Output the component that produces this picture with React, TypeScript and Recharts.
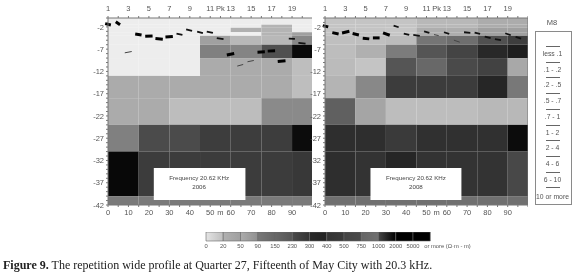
import { ComposedChart, ReferenceArea, ReferenceLine, XAxis, YAxis } from 'recharts';

// electrode positions along the profile (m), shared by both panels
const columnEdges = [0, 15, 30, 45, 60, 75, 90, 100];
const rowEdges = [0, -1.5, -2.2, -3.2, -4, -6, -9, -13, -18, -24, -30, -40, -42];

const profileExtent = [{ x: 0, depth: 0 }, { x: 100, depth: -42 }];
const barExtent = [{ x: 0, y: 0 }, { x: 16, y: 1 }];

const topTicks = [0, 5, 10, 15, 20, 25, 30, 35, 40, 45, 50, 55, 60, 65, 70, 75, 80, 85, 90, 95, 100];
const topLabels: Record<number, string> = {
  0: '1', 10: '3', 20: '5', 30: '7', 40: '9', 50: '11', 55: 'Pk', 60: '13', 70: '15', 80: '17', 90: '19',
};
const bottomLabels: Record<number, string> = {
  0: '0', 10: '10', 20: '20', 30: '30', 40: '40', 50: '50', 55: 'm', 60: '60', 70: '70', 80: '80', 90: '90',
};
const depthTicks = [0, -1, -2, -3, -4, -5, -6, -7, -8, -9, -10, -11, -12, -13, -14, -15, -16, -17, -18, -19, -20, -21, -22, -23, -24, -25, -26, -27, -28, -29, -30, -31, -32, -33, -34, -35, -36, -37, -38, -39, -40, -41, -42];
const depthLabels = [-2, -7, -12, -17, -22, -27, -32, -37, -42];

// gray level of each cell, one row per depth band
const leftLevels = [
  [237, 237, 237, 237, 237, 237, 237],
  [237, 237, 237, 237, 237, 180, 237],
  [237, 237, 237, 237, 176, 180, 237],
  [237, 237, 237, 237, 240, 180, 160],
  [237, 237, 237, 160, 184, 184, 136],
  [237, 237, 237, 128, 132, 80, 10],
  [237, 237, 237, 171, 171, 171, 190],
  [171, 171, 171, 171, 171, 171, 190],
  [171, 171, 189, 189, 189, 138, 138],
  [128, 75, 75, 61, 61, 61, 12],
  [8, 60, 60, 60, 60, 60, 56],
  [122, 122, 122, 122, 122, 122, 122],
];
const rightLevels = [
  [196, 196, 196, 184, 184, 172, 172],
  [196, 196, 196, 184, 184, 172, 172],
  [196, 196, 198, 174, 174, 160, 160],
  [196, 196, 198, 174, 174, 160, 160],
  [191, 191, 188, 117, 110, 80, 62],
  [189, 176, 124, 85, 68, 40, 30],
  [187, 196, 85, 104, 74, 66, 168],
  [180, 136, 60, 60, 60, 38, 120],
  [96, 165, 189, 189, 189, 184, 184],
  [46, 46, 58, 48, 48, 48, 12],
  [46, 51, 38, 51, 51, 51, 72],
  [112, 112, 112, 112, 112, 112, 112],
];

// x1, depth1, x2, depth2, magnitude class
const leftDashes = [
  [-1.4, -1.27, 1.4, -1.56, 3],
  [3.8, -0.83, 5.9, -1.5, 3],
  [8.2, -7.82, 11.6, -7.53, 1],
  [13.3, -3.58, 16.4, -3.8, 3],
  [18.2, -4.09, 21.8, -4.02, 3],
  [23.2, -4.62, 26.8, -4.76, 3],
  [28.1, -4.25, 31.7, -4.13, 3],
  [33.5, -3.5, 36.4, -3.8, 2],
  [38.2, -2.53, 41.1, -2.9, 2],
  [43.6, -3.06, 46.4, -3.42, 2],
  [48.3, -3.06, 51.3, -3.35, 2],
  [53.2, -4.54, 56.5, -4.76, 2],
  [58.1, -8.33, 61.7, -7.98, 3],
  [63.2, -10.8, 66.1, -10.44, 1],
  [68.2, -9.83, 71.3, -9.54, 1],
  [73.1, -7.67, 76.7, -7.6, 3],
  [78.1, -7.44, 81.7, -7.37, 3],
  [83, -9.76, 86.8, -9.6, 3],
  [88.4, -4.62, 91.4, -4.69, 2],
  [93.1, -5.59, 96.6, -5.75, 2],
];
const rightDashes = [
  [-1.1, -1.71, 1.6, -2, 3],
  [3.6, -3.28, 6.7, -3.58, 3],
  [8.4, -3.35, 12, -2.98, 3],
  [13.6, -3.5, 16.7, -3.8, 3],
  [18.6, -4.54, 21.8, -4.69, 3],
  [23.6, -4.47, 26.9, -4.47, 3],
  [28.6, -3.35, 31.9, -3.87, 3],
  [33.8, -1.71, 36.3, -2.08, 2],
  [38.8, -3.5, 41.5, -3.8, 2],
  [43.5, -3.8, 46.7, -4.02, 2],
  [48.8, -2.98, 51.4, -3.35, 2],
  [53.7, -3.73, 56, -3.95, 1],
  [58.6, -3.2, 61.2, -3.58, 2],
  [63.5, -4.98, 66.4, -5.43, 1],
  [68.5, -3.2, 71.6, -3.35, 2],
  [73.7, -3.28, 76.4, -3.58, 2],
  [78.7, -4.18, 81.6, -4.54, 2],
  [83.7, -4.76, 86.7, -4.98, 2],
  [88.8, -3.42, 91.5, -3.87, 2],
  [93.9, -4.25, 96.6, -4.63, 2],
];

// resistivity colour bar
const barLabels = ['0', '20', '50', '90', '150', '230', '300', '400', '500', '750', '1000', '2000', '5000'];
const barStart = [228, 176, 172, 120, 104, 74, 42, 51, 68, 102, 70, 0, 0];
const barEnd = [190, 160, 144, 102, 85, 51, 34, 58, 74, 112, 0, 0, 0];

const magnitudeLabels = ['less .1', '.1 - .2', '.2 - .5', '.5 - .7', '.7 - 1', '1 - 2', '2 - 4', '4 - 6', '6 - 10', '10 or more'];

const gray = (v: number) => `rgb(${v},${v},${v})`;
const axisColor = '#777';
const tickStyle = { fontSize: 7.5, fill: '#555', fontFamily: 'Liberation Sans' };
const dashWidth: Record<number, number> = { 1: 1, 2: 1.8, 3: 3 };
const dashColor: Record<number, string> = { 1: '#444', 2: '#111', 3: '#000' };

function Panel({ left, plotWidth, levels, dashes, boxYear }: any) {
  return (
    <div style={{ position: 'absolute', left, top: 0 }}>
      <ComposedChart
        width={plotWidth + 30}
        height={225}
        data={profileExtent}
        margin={{ top: 0, right: 0, left: 0, bottom: 0 }}
      >
        <XAxis
          xAxisId="top"
          orientation="top"
          dataKey="x"
          type="number"
          domain={[0, 100]}
          ticks={topTicks}
          interval={0}
          height={18}
          tickSize={2}
          tickMargin={5}
          stroke={axisColor}
          tick={tickStyle}
          tickFormatter={(v: number) => topLabels[v] ?? ''}
        />
        <XAxis
          xAxisId="bottom"
          dataKey="x"
          type="number"
          domain={[0, 100]}
          ticks={topTicks}
          interval={0}
          height={20}
          tickSize={2}
          tickMargin={3}
          stroke={axisColor}
          tick={tickStyle}
          tickFormatter={(v: number) => bottomLabels[v] ?? ''}
        />
        <YAxis
          dataKey="depth"
          type="number"
          domain={[-42, 0]}
          ticks={depthTicks}
          interval={0}
          width={30}
          tickSize={2}
          tickMargin={2}
          stroke={axisColor}
          tick={tickStyle}
          tickFormatter={(v: number) => (depthLabels.includes(v) ? String(v) : '')}
        />
        {levels.map((row: number[], r: number) =>
          row.map((level, c) => (
            <ReferenceArea
              key={`${r}-${c}`}
              xAxisId="bottom"
              x1={columnEdges[c]}
              x2={columnEdges[c + 1]}
              y1={rowEdges[r + 1]}
              y2={rowEdges[r]}
              fill={gray(level)}
              fillOpacity={1}
              stroke="none"
            />
          ))
        )}
        <ReferenceArea xAxisId="bottom" x1={22.4} x2={67.2} y1={-40.9} y2={-33.7} fill="#fff" fillOpacity={1} stroke="none" />
        <ReferenceLine xAxisId="bottom" x={100} stroke={axisColor} />
        {dashes.map((d: number[], i: number) => (
          <ReferenceLine
            key={i}
            xAxisId="bottom"
            ifOverflow="visible"
            segment={[{ x: d[0], y: d[1] }, { x: d[2], y: d[3] }]}
            stroke={dashColor[d[4]]}
            strokeWidth={dashWidth[d[4]]}
          />
        ))}
      </ComposedChart>
      <div
        style={{
          position: 'absolute',
          left: 30 + plotWidth * 0.448 - 50,
          top: 174,
          width: 100,
          textAlign: 'center',
          font: '6.2px/8.8px "Liberation Sans"',
          color: '#444',
        }}
      >
        Frequency 20.62 KHz
        <br />
        {boxYear}
      </div>
    </div>
  );
}

export default function App() {
  return (
    <div
      style={{
        position: 'absolute',
        left: 0,
        top: 0,
        width: 576,
        height: 273,
        overflow: 'hidden',
        background: '#fff',
        filter: 'blur(0.45px)',
      }}
    >
      <Panel left={77.5} plotWidth={204.5} levels={leftLevels} dashes={leftDashes} boxYear="2006" />
      <Panel left={295} plotWidth={203} levels={rightLevels} dashes={rightDashes} boxYear="2008" />

      <div style={{ position: 'absolute', left: 540, width: 24, top: 18, textAlign: 'center', font: '7.5px "Liberation Sans"', color: '#555' }}>M8</div>
      <div style={{ position: 'absolute', left: 535, top: 31, width: 35, height: 172, border: '1.5px solid #8a8a8a' }} />
      {magnitudeLabels.map((label, i) => (
        <div key={label}>
          <div style={{ position: 'absolute', left: 546, top: 46 + i * 15.7, width: 14, height: 1, background: '#666' }} />
          <div
            style={{
              position: 'absolute',
              left: 530,
              width: 45,
              top: 50 + i * 15.7 + (i === 9 ? 2 : 0),
              textAlign: 'center',
              font: '6.8px "Liberation Sans"',
              color: '#555',
            }}
          >
            {label}
          </div>
        </div>
      ))}

      <div style={{ position: 'absolute', left: 195.5, top: 232 }}>
        <ComposedChart
          width={296}
          height={22}
          data={barExtent}
          margin={{ top: 0, right: 10, left: 10, bottom: 0 }}
        >
          <defs>
            {barStart.map((s, i) => (
              <linearGradient key={i} id={`seg${i}`} x1="0" x2="1" y1="0" y2="0">
                <stop offset="0%" stopColor={gray(s)} />
                <stop offset="100%" stopColor={gray(barEnd[i])} />
              </linearGradient>
            ))}
          </defs>
          <XAxis
            dataKey="x"
            type="number"
            domain={[0, 16]}
            ticks={[0, 1, 2, 3, 4, 5, 6, 7, 8, 9, 10, 11, 12, 14]}
            interval={0}
            height={13}
            tickSize={0}
            tickMargin={3}
            axisLine={false}
            tick={{ fontSize: 5.8, fill: '#555', fontFamily: 'Liberation Sans' }}
            tickFormatter={(v: number) => barLabels[v] ?? 'or more (Ω·m - m)'}
          />
          <YAxis hide dataKey="y" type="number" domain={[0, 1]} />
          {barStart.map((_, i) => (
            <ReferenceArea
              key={i}
              x1={i}
              x2={i + 1}
              y1={0}
              y2={1}
              fill={`url(#seg${i})`}
              fillOpacity={1}
              stroke="#666"
              strokeWidth={0.6}
            />
          ))}
        </ComposedChart>
      </div>

      <div style={{ position: 'absolute', left: 3, top: 258, whiteSpace: 'nowrap', font: '12px "Liberation Serif"', color: '#222' }}>
        <b>Figure 9.</b> The repetition wide profile at Quarter 27, Fifteenth of May City with 20.3 kHz.
      </div>
    </div>
  );
}
